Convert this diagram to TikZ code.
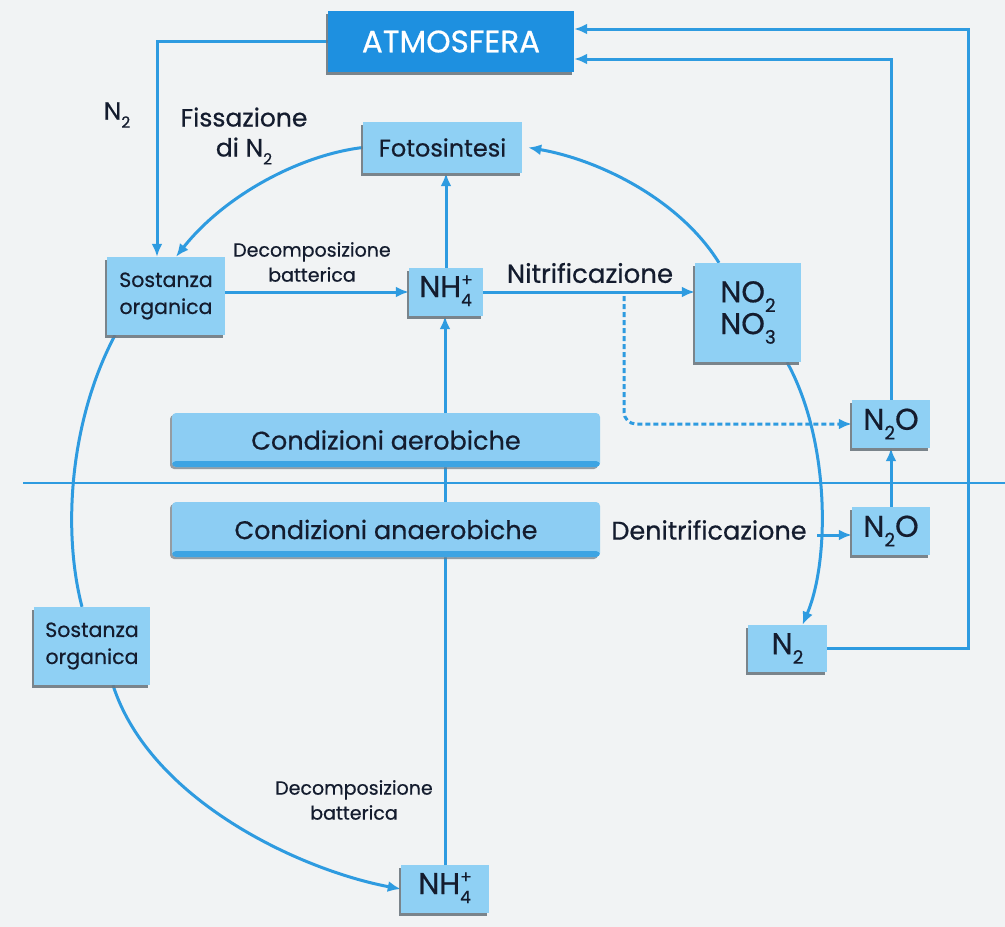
\documentclass[tikz,border=0pt]{standalone}
\usepackage{fontspec}
\setmainfont{Poppins}[FakeBold=0.6]
\usetikzlibrary{arrows.meta,calc,shadows}
\definecolor{bgcol}{HTML}{F1F3F4}
\definecolor{lineblue}{HTML}{2E9BE0}
\definecolor{boxblue}{HTML}{8FD0F4}
\definecolor{atmblue}{HTML}{1E90E0}
\definecolor{barblue}{HTML}{8CCDF3}
\definecolor{bardark}{HTML}{3DA4E3}
\definecolor{ink}{HTML}{141C2E}
\definecolor{shadowgray}{HTML}{6E7880}
\pgfdeclarelayer{bgfill}
\pgfdeclarelayer{lines}
\pgfsetlayers{bgfill,lines,main}
\newcommand{\nhfour}{NH\raisebox{-0.3em}{\fontsize{17}{20}\selectfont\begin{tabular}[b]{@{}l@{}}+\\4\end{tabular}}}
\newcommand{\sbs}[1]{\raisebox{-0.32em}{\scalebox{0.62}{#1}}}
\begin{document}
\begin{tikzpicture}[x=1pt,y=1pt,
  box/.style={fill=boxblue, text=ink, inner sep=0pt, align=center,
    drop shadow={shadow xshift=-2.5pt, shadow yshift=-2.5pt, fill=shadowgray, opacity=0.9}},
  atmbox/.style={fill=atmblue, text=white, inner sep=0pt, align=center,
    drop shadow={shadow xshift=-2.5pt, shadow yshift=-2.5pt, fill=shadowgray, opacity=0.9},
    font=\fontsize{31}{34}\selectfont},
  bigf/.style={font=\fontsize{30}{30}\selectfont},
  midf/.style={font=\fontsize{20.5}{27}\selectfont},
  smallf/.style={font=\fontsize{19}{25}\selectfont},
  bar/.style={fill=barblue, text=ink, inner sep=0pt, rounded corners=4pt,
    font=\fontsize{25.5}{28}\selectfont,
    drop shadow={shadow xshift=-2pt, shadow yshift=-2pt, fill=shadowgray, opacity=0.7},
    path picture={\fill[bardark] (path picture bounding box.south west) rectangle ([yshift=6pt]path picture bounding box.south east);}},
  lbl/.style={text=ink, inner sep=0pt, align=center},
  conn/.style={draw=lineblue, line width=3pt},
  arr/.style={conn, -{Latex[length=13pt,width=11pt]}},
  dasharr/.style={draw=lineblue, line width=3pt, dash pattern=on 5pt off 3pt, -{Latex[length=13pt,width=11pt]}}
]
\begin{pgfonlayer}{bgfill}
\fill[bgcol] (0,0) rectangle (1005,-927);
\end{pgfonlayer}
\useasboundingbox (0,0) rectangle (1005,-927);

% boxes
\node[atmbox, minimum width=246, minimum height=61] (atm) at (451,-41.5) {ATMOSFERA};
\node[box, minimum width=159, minimum height=51, font=\fontsize{24}{26}\selectfont] (foto) at (442.5,-147.5) {Fotosintesi};
\node[box, midf, minimum width=118, minimum height=78] (so1) at (166,-296) {Sostanza\\organica};
\node[box, bigf, minimum width=74, minimum height=48] (nh1) at (446,-292) {\nhfour};
\node[box, bigf, minimum width=106, minimum height=99] (no) at (748,-312.5) {NO\sbs{2}\\NO\sbs{3}};
\node[box, bigf, minimum width=78, minimum height=48] (n2oa) at (891,-424) {N\sbs{2}O};
\node[box, bigf, minimum width=78, minimum height=48] (n2ob) at (891,-531) {N\sbs{2}O};
\node[box, bigf, minimum width=79, minimum height=47] (n2) at (787.5,-648.5) {N\sbs{2}};
\node[box, midf, minimum width=116, minimum height=78] (so2) at (92,-646) {Sostanza\\organica};
\node[box, bigf, minimum width=88, minimum height=48] (nh2) at (445,-889) {\nhfour};

% bars
\node[bar, minimum width=428, minimum height=54] (aer) at (386,-440) {Condizioni aerobiche};
\node[bar, minimum width=428, minimum height=55] (anaer) at (386,-529.5) {Condizioni anaerobiche};

% labels
\node[lbl, font=\fontsize{25}{28}\selectfont] (n2lbl) at (117,-115) {N\sbs{2}};
\node[lbl, font=\fontsize{25}{30}\selectfont] (fiss) at (244,-136) {Fissazione\\di N\sbs{2}};
\node[lbl, smallf] (dec1) at (312,-262) {Decomposizione\\batterica};
\node[lbl, font=\fontsize{26}{28}\selectfont] (nitr) at (590,-273) {Nitrificazione};
\node[lbl, font=\fontsize{25.5}{28}\selectfont] (denitr) at (709,-530) {Denitrificazione};
\node[lbl, smallf] (dec2) at (354,-800) {Decomposizione\\batterica};

\coordinate (c1) at (968,-29);
\coordinate (dn) at (817,-535);
\coordinate (dsh) at (624,-296);
\coordinate (divl) at (23,-483);
\coordinate (divr) at (1005,-483);

\begin{pgfonlayer}{lines}
\draw[conn, line width=2.5pt] (divl) -- (divr);
\draw[arr] (atm.west) -| ([xshift=-9pt]so1.north);
\draw[arr] (foto.west) .. controls (300,-155) and (225,-195) .. ([xshift=10pt]so1.north);
\draw[arr] (so1.east |- nh1.west) -- (nh1.west);
\draw[arr] (nh1.north) -- (foto.south -| nh1.north);
\draw[arr] (nh1.east) -- (nh1.east -| no.west);
\draw[arr] ([xshift=-29pt]no.north) .. controls (680,-200) and (600,-160) .. ([xshift=6pt]foto.east);
\draw[arr] ([xshift=39pt]no.south) .. controls (830,-440) and (830,-560) .. ([xshift=15pt]n2.north);
\draw[arr] (dn) -- (dn -| n2ob.west);
\draw[arr] (n2ob.north) -- (n2oa.south);
\draw[arr] (n2oa.north) |- ([yshift=-17.5pt]atm.east);
\draw[arr] (n2.east) -| (c1) -- (c1 -| atm.east);
\draw[dasharr, rounded corners=12pt] (dsh) |- (n2oa.west);
\draw[conn] ([xshift=-51pt]so1.south) .. controls (70,-420) and (62,-530) .. ([xshift=-10pt]so2.north);
\draw[arr] ([xshift=21pt]so2.south) .. controls (150,-800) and (300,-870) .. (nh2.west);
\draw[arr] (nh2.north) -- (nh2.north |- nh1.south);
\end{pgfonlayer}
\end{tikzpicture}
\end{document}
